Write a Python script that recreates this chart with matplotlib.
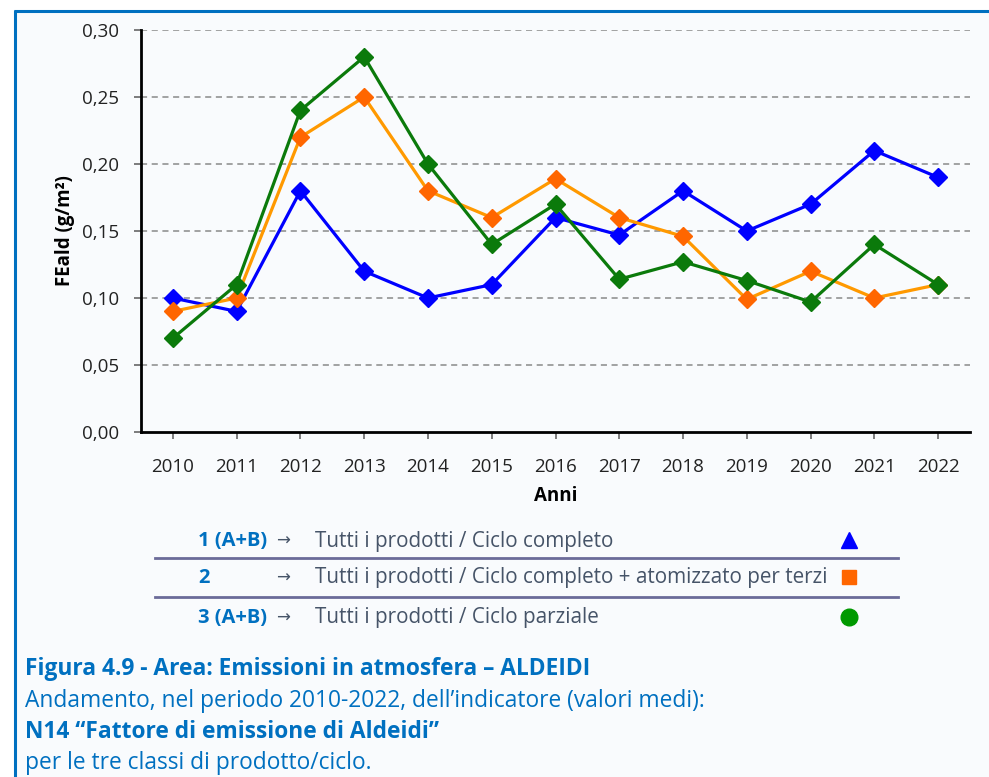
import matplotlib
matplotlib.use("Agg")
import matplotlib.pyplot as plt
from matplotlib.patches import Rectangle

plt.rcParams['font.family'] = ['Open Sans', 'DejaVu Sans']

years = ['2010', '2011', '2012', '2013', '2014', '2015', '2016',
         '2017', '2018', '2019', '2020', '2021', '2022']
serie_1 = [0.10, 0.09, 0.18, 0.12, 0.10, 0.11, 0.16, 0.147, 0.18, 0.15, 0.17, 0.21, 0.19]
serie_2 = [0.09, 0.10, 0.22, 0.25, 0.18, 0.16, 0.189, 0.16, 0.146, 0.099, 0.12, 0.10, 0.11]
serie_3 = [0.07, 0.11, 0.24, 0.28, 0.20, 0.14, 0.17, 0.114, 0.127, 0.113, 0.097, 0.14, 0.11]
yticks = [0.00, 0.05, 0.10, 0.15, 0.20, 0.25, 0.30]

W, H = 989, 777
BG = '#F9FBFD'
BLUE_T = '#0070C0'
TXT = '#465468'

fig = plt.figure(figsize=(W / 100, H / 100), dpi=100)
fig.patch.set_facecolor('white')

# overlay in pixel coordinates
ov = fig.add_axes([0, 0, 1, 1], zorder=0)
ov.set_xlim(0, W)
ov.set_ylim(H, 0)
ov.axis('off')
ov.add_patch(Rectangle((15, 11), W - 15, H - 11, facecolor=BG, edgecolor='none'))
ov.plot([15, 15], [10, H], color='#0070C0', lw=2.2, solid_capstyle='butt')
ov.plot([14, W], [11, 11], color='#0070C0', lw=2.2, solid_capstyle='butt')

# main axes
ax = fig.add_axes([141 / W, 1 - 432 / H, (970 - 141) / W, (432 - 30) / H], zorder=2)
ax.set_facecolor(BG)
x = list(range(len(years)))
ax.plot(x, serie_1, color='#0000FF', lw=2.3, marker='D', ms=8.8,
        mfc='#0000FF', mec='#0000FF', zorder=3)
ax.plot(x, serie_2, color='#FF9900', lw=2.3, marker='D', ms=8.8,
        mfc='#FF6600', mec='#FF6600', zorder=4)
ax.plot(x, serie_3, color='#0B7A0B', lw=2.3, marker='D', ms=8.8,
        mfc='#0B7A0B', mec='#0B7A0B', zorder=5)

ax.set_xlim(-0.5, len(years) - 0.5)
ax.set_ylim(0, 0.30)
ax.set_yticks(yticks)
ax.set_yticklabels([f'{v:.2f}'.replace('.', ',') for v in yticks])
ax.set_xticks(x)
ax.set_xticklabels(years)
for v in yticks[1:]:
    ax.axhline(v, color='#8A8A8A', lw=1.1, ls=(0, (4, 3)), zorder=1)
ax.spines['top'].set_visible(False)
ax.spines['right'].set_visible(False)
ax.spines['left'].set_linewidth(2)
ax.spines['bottom'].set_linewidth(2)
ax.tick_params(axis='both', labelsize=13.5, colors='#222222', length=5, width=1.2)
ax.tick_params(axis='x', color='#666666', pad=14)
ax.tick_params(axis='y', color='#666666', pad=11)
ax.set_xlabel('Anni', fontsize=13.5, fontweight='bold', labelpad=7)
ax.set_ylabel('FEald (g/m²)', fontsize=13.5, fontweight='bold', labelpad=5)

# legend table
rows = [
    ('1 (A+B)', 'Tutti i prodotti / Ciclo completo', '^', '#0000FF', 541),
    ('2', 'Tutti i prodotti / Ciclo completo + atomizzato per terzi', 's', '#FF6600', 578),
    ('3 (A+B)', 'Tutti i prodotti / Ciclo parziale', 'o', '#009900', 618),
]
for lab, desc, mk, col, yy in rows:
    ov.text(198, yy, lab, fontsize=14.5, fontweight='bold', color=BLUE_T,
            ha='left', va='center')
    ov.text(276, yy, '→', fontsize=12, color=TXT, ha='left', va='center',
            family=['DejaVu Sans'])
    ov.text(315, yy, desc, fontsize=14.9, color=TXT, ha='left', va='center')
    ov.plot([849], [yy - 1], marker=mk, ms=12 if mk != 's' else 10,
            color=col, mec=col, ls='none')
for yy in (558, 597):
    ov.plot([155, 898], [yy, yy], color='#6B6B99', lw=2)

# caption
cap = [
    ('Figura 4.9 - Area: Emissioni in atmosfera – ALDEIDI', 'bold', 669),
    ('Andamento, nel periodo 2010-2022, dell’indicatore (valori medi):', 'normal', 701),
    ('N14 “Fattore di emissione di Aldeidi”', 'bold', 732),
    ('per le tre classi di prodotto/ciclo.', 'normal', 763),
]
for t, w, yy in cap:
    ov.text(25, yy, t, fontsize=16.4, fontweight=w, color=BLUE_T,
            ha='left', va='center')

fig.savefig('out.png', dpi=100, facecolor=fig.get_facecolor())
